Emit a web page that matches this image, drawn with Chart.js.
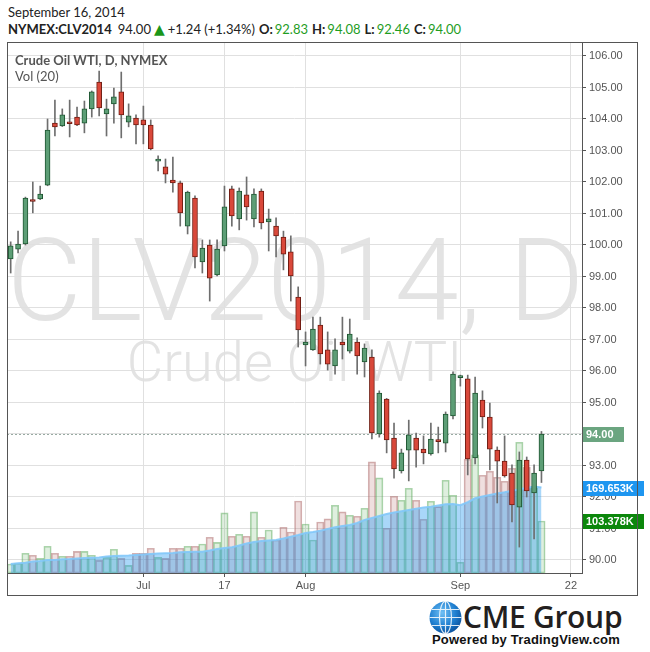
<!DOCTYPE html>
<html>
<head>
<meta charset="utf-8">
<title>Crude Oil WTI CLV2014</title>
<script src="https://cdn.jsdelivr.net/npm/chart.js@4.4.1/dist/chart.umd.min.js"></script>
<style>
    html, body { margin: 0; padding: 0; background: #fff; }
    body { width: 650px; height: 652px; position: relative; overflow: hidden; font-family: Lato, 'Liberation Sans', sans-serif; color: #222; }
    .abs { position: absolute; white-space: nowrap; }
    #title { left: 8px; top: 4px; font-size: 13px; line-height: 16px; }
    #quote { left: 8px; top: 21px; font-size: 13px; line-height: 16px; }
    #quote b { font-weight: 700; }
    #quote .sp { margin-left: 4px; }
    #quote .g { color: #1f9d1f; margin-left: 2px; }
    #quote .tri { color: #1a961a; font-family: 'DejaVu Sans', sans-serif; font-size: 14px; margin: 0 3px 0 3px; }
    .wm { left: 7px; width: 575px; text-align: center; color: #e3e3e3; font-family: Roboto, sans-serif; font-weight: 300; line-height: 1; z-index: 0; }
    #wm1 { top: 223px; font-size: 115px; }
    #wm2 { top: 334px; font-size: 56px; }
    #chart { position: absolute; left: 0; top: 0; z-index: 1; }
    #frame { left: 7px; top: 42px; width: 631px; height: 554px; border: 1px solid #555; box-sizing: border-box; z-index: 2; pointer-events: none; }
    .legend { left: 15px; font-size: 13px; line-height: 16px; color: #555; z-index: 3; }
    #leg1 { top: 52px; font-weight: 700; }
    #leg2 { top: 68px; }
    #logo { left: 429px; top: 601px; width: 33px; height: 33px; }
    #cme { left: 463px; top: 597px; font-family: 'Open Sans', sans-serif; font-weight: 600; font-size: 30px; line-height: 40px; color: #231f20; letter-spacing: -0.3px; }
    #powered { left: 432px; top: 632px; font-family: 'Liberation Sans', Arial, sans-serif; font-weight: 700; font-size: 13px; line-height: 16px; color: #111; letter-spacing: 0.2px; }
</style>
</head>
<body>
<div id="title" class="abs">September 16, 2014</div>
<div id="quote" class="abs"></div>

<div id="wm1" class="abs wm">CLV2014, D</div>
<div id="wm2" class="abs wm">Crude Oil WTI</div>

<canvas id="chart" width="650" height="652"></canvas>
<div id="frame" class="abs"></div>
<div id="leg1" class="abs legend">Crude Oil WTI, D, NYMEX</div>
<div id="leg2" class="abs legend">Vol (20)</div>

<svg id="logo" class="abs" viewBox="0 0 33 33">
    <defs>
        <radialGradient id="gl" cx="40%" cy="35%" r="70%">
            <stop offset="0" stop-color="#6fc0f5"/>
            <stop offset="0.6" stop-color="#1f7fd0"/>
            <stop offset="1" stop-color="#0a4f9a"/>
        </radialGradient>
    </defs>
    <circle cx="16.5" cy="16.5" r="16" fill="url(#gl)"/>
    <g fill="none" stroke="#fff" stroke-width="1.2" opacity="0.85">
        <ellipse cx="16.5" cy="16.5" rx="6" ry="16"/>
        <line x1="16.5" y1="0.5" x2="16.5" y2="32.5"/>
        <line x1="0.5" y1="16.5" x2="32.5" y2="16.5"/>
        <path d="M3 8.5 H30 M3 24.5 H30"/>
    </g>
</svg>
<div id="cme" class="abs">CME Group</div>
<div id="powered" class="abs">Powered by TradingView.com</div>

<script>
// Trading days shown on the axis (2014), last five are empty future slots
const categories = [
    '06-05', '06-06', '06-09', '06-10', '06-11', '06-12', '06-13', '06-16', '06-17', '06-18',
    '06-19', '06-20', '06-23', '06-24', '06-25', '06-26', '06-27', '06-30',
    '07-01', '07-02', '07-03', '07-07', '07-08', '07-09', '07-10', '07-11', '07-14', '07-15',
    '07-16', '07-17', '07-18', '07-21', '07-22', '07-23', '07-24', '07-25', '07-28', '07-29',
    '07-30', '07-31',
    '08-01', '08-04', '08-05', '08-06', '08-07', '08-08', '08-11', '08-12', '08-13', '08-14',
    '08-15', '08-18', '08-19', '08-20', '08-21', '08-22', '08-25', '08-26', '08-27', '08-28',
    '08-29',
    '09-01', '09-02', '09-03', '09-04', '09-05', '09-08', '09-09', '09-10', '09-11', '09-12',
    '09-15', '09-16',
    '09-17', '09-18', '09-19', '09-22', '09-23'
];

const xTickLabels = { '07-01': 'Jul', '07-17': '17', '08-01': 'Aug', '09-01': 'Sep', '09-22': '22' };
const priceTicks = [90, 91, 92, 93, 94, 95, 96, 97, 98, 99, 100, 101, 102, 103, 104, 105, 106];

const open = [
    99.56, 99.87, 100.03, 101.42, 101.46, 101.90, 103.87, 103.78, 103.88, 104.06,
    103.87, 104.32, 105.17, 104.16, 104.48, 104.86, 103.90, 104.03, 103.97, 103.81,
    102.66, 102.48, 102.06, 101.97, 100.60, 101.49, 99.46, 100.00, 99.05, 99.97,
    101.78, 100.83, 101.59, 100.83, 101.71, 100.73, 100.60, 100.25, 99.78, 98.35,
    96.83, 96.67, 97.46, 96.67, 96.16, 96.92, 96.63, 96.92, 96.29, 96.44,
    94.00, 95.11, 93.87, 92.83, 93.49, 93.87, 93.52, 93.37, 93.80, 93.71,
    94.57, 95.79, 95.75, 93.24, 95.08, 94.54, 93.49, 93.14, 92.76, 91.68,
    93.17, 92.13, 92.83
];
const high = [
    100.10, 100.44, 101.52, 102.00, 101.87, 104.00, 104.60, 104.32, 104.60, 104.38,
    104.57, 104.89, 105.52, 104.63, 104.98, 105.49, 104.48, 104.13, 104.41, 103.97,
    102.83, 102.73, 102.79, 102.03, 101.71, 101.56, 100.16, 100.16, 100.16, 101.87,
    101.87, 101.81, 102.16, 101.78, 101.78, 101.14, 100.86, 100.44, 100.29, 98.67,
    97.24, 97.71, 97.71, 97.24, 97.02, 97.71, 97.65, 97.05, 96.86, 96.67,
    95.37, 95.13, 94.35, 93.52, 94.44, 94.03, 93.94, 94.35, 94.22, 94.70,
    95.97, 95.87, 95.87, 95.81, 95.37, 94.98, 93.59, 93.94, 93.02, 93.43,
    93.27, 93.02, 94.08
];
const low = [
    99.11, 99.75, 100.00, 101.02, 101.44, 101.88, 103.46, 103.76, 103.43, 103.79,
    103.56, 104.06, 104.10, 103.46, 103.87, 103.40, 103.75, 103.21, 103.21, 103.02,
    102.35, 101.97, 101.68, 100.60, 100.35, 99.27, 99.11, 98.22, 99.02, 99.81,
    100.60, 100.48, 100.79, 100.57, 100.51, 99.81, 99.62, 99.21, 98.22, 96.76,
    96.16, 96.65, 96.22, 96.03, 95.90, 96.38, 96.57, 95.90, 95.81, 93.84,
    93.90, 93.40, 92.60, 92.76, 92.51, 92.95, 93.05, 93.33, 93.40, 93.43,
    94.48, 95.52, 92.70, 93.05, 94.19, 92.86, 91.81, 92.63, 91.21, 90.41,
    92.00, 90.67, 92.46
];
const close = [
    99.97, 100.03, 101.49, 101.38, 101.62, 103.65, 103.75, 104.13, 103.85, 103.81,
    104.32, 104.86, 104.35, 104.32, 104.70, 104.13, 104.10, 103.81, 103.81, 103.05,
    102.70, 102.25, 101.97, 101.02, 101.68, 99.62, 99.90, 98.95, 99.87, 101.21,
    100.92, 101.71, 101.21, 101.62, 100.70, 100.83, 100.29, 99.71, 99.02, 97.30,
    96.92, 97.33, 96.54, 96.22, 96.67, 96.83, 97.17, 96.48, 96.73, 94.03,
    95.30, 93.81, 92.89, 93.40, 93.97, 93.49, 93.40, 93.84, 93.76, 94.63,
    95.90, 95.83, 93.21, 95.30, 94.54, 93.52, 93.14, 92.67, 91.75, 93.17,
    92.19, 92.76, 94.00
];

// Volume in thousands of contracts
const volume = [
    17.9, 19.3, 39.2, 35.2, 29.2, 53.1, 39.2, 33.2, 33.2, 43.1,
    43.1, 35.2, 25.2, 31.2, 47.1, 29.2, 15.3, 39.2, 39.2, 49.1,
    31.2, 29.2, 49.1, 49.1, 53.1, 53.1, 57.7, 71.0, 61.0, 119.3,
    73.0, 76.9, 73.0, 121.3, 71.0, 85.5, 65.6, 90.9, 81.5, 143.1,
    97.4, 65.6, 101.4, 107.4, 134.6, 121.3, 114.7, 112.7, 128.6, 220.7,
    188.9, 88.9, 152.5, 144.5, 168.4, 144.5, 106.8, 142.5, 131.8, 184.3,
    154.5, 21.3, 226.0, 234.6, 194.2, 202.2, 190.3, 182.3, 208.2, 259.8,
    210.1, 169.0, 103.378
];
// Vol (20) moving average
const volMA = [
    17.9, 19.3, 20.5, 22.9, 23.9, 25.8, 25.8, 27.2, 27.8, 28.8,
    29.8, 30.2, 30.8, 32.8, 33.8, 34.2, 34.8, 35.8, 36.8, 37.8,
    38.8, 39.4, 39.8, 41.2, 41.7, 42.1, 42.3, 44.7, 47.7, 49.7,
    51.1, 54.7, 58.6, 61.6, 63.6, 64.6, 65.6, 68.6, 72.2, 75.5,
    79.5, 81.5, 84.1, 87.5, 90.9, 93.4, 95.4, 99.4, 105.4, 109.3,
    113.3, 117.3, 120.3, 122.7, 125.2, 127.8, 130.2, 131.8, 134.2, 136.6,
    137.2, 134.6, 140.6, 148.5, 152.1, 155.1, 158.1, 160.4, 163.4, 166.4,
    169.0, 172.0, 169.653
];

const last = close.length - 1;

// Header quote line
(function buildQuote() {
    const chg = close[last] - close[last - 1];
    const pct = chg / close[last - 1] * 100;
    const sign = chg >= 0 ? '+' : '';
    document.getElementById('quote').innerHTML =
        '<b>NYMEX:CLV2014</b><span class="sp" style="margin-left:6px">' + close[last].toFixed(2) + '</span>' +
        '<span class="tri">▲</span>' + sign + chg.toFixed(2) + ' (' + sign + pct.toFixed(2) + '%)' +
        '<b class="sp">O:</b><span class="g">' + open[last].toFixed(2) + '</span>' +
        '<b class="sp">H:</b><span class="g">' + high[last].toFixed(2) + '</span>' +
        '<b class="sp">L:</b><span class="g">' + low[last].toFixed(2) + '</span>' +
        '<b class="sp">C:</b><span class="g">' + close[last].toFixed(2) + '</span>';
})();

const isUp = close.map((c, i) => c >= open[i]);

// Last price dashed line and the axis value tags
function drawTag(chart, y, text, bg, w) {
    const ctx = chart.ctx;
    const x = chart.chartArea.right + 1;
    const yy = Math.round(y);
    ctx.save();
    ctx.fillStyle = bg;
    ctx.fillRect(x, yy - 7, w, 15);
    ctx.fillStyle = '#fff';
    ctx.font = 'bold 11px "Liberation Sans", Arial, sans-serif';
    ctx.textBaseline = 'middle';
    ctx.fillText(text, x + 3, yy + 1);
    ctx.restore();
}

const overlayPlugin = {
    id: 'overlay',
    beforeDatasetsDraw(chart) {
        const { ctx, chartArea, scales } = chart;
        const y = Math.round(scales.y.getPixelForValue(close[last])) + 0.5;
        ctx.save();
        ctx.strokeStyle = '#98aaa2';
        ctx.lineWidth = 1;
        ctx.setLineDash([2, 2]);
        ctx.beginPath();
        ctx.moveTo(chartArea.left, y);
        ctx.lineTo(chartArea.right, y);
        ctx.stroke();
        ctx.restore();
    },
    afterDraw(chart) {
        const { scales } = chart;
        drawTag(chart, scales.y.getPixelForValue(close[last]), close[last].toFixed(2), '#6ba580', 41);
        drawTag(chart, scales.vol.getPixelForValue(volMA[last]), volMA[last].toFixed(3) + 'K', '#1e96f0', 61);
        drawTag(chart, scales.vol.getPixelForValue(volume[last]), volume[last].toFixed(3) + 'K', '#0b870b', 61);
    }
};

Chart.defaults.font.family = "'Liberation Sans', Arial, sans-serif";
Chart.defaults.font.size = 11;
Chart.defaults.color = '#555';

new Chart(document.getElementById('chart'), {
    type: 'bar',
    data: {
        labels: categories,
        datasets: [
            {
                label: 'Body',
                data: open.map((o, i) => [o, close[i]]),
                backgroundColor: isUp.map(u => u ? '#5d9e76' : '#d9483a'),
                borderColor: isUp.map(u => u ? '#1f5632' : '#701c12'),
                borderWidth: 1,
                borderSkipped: false,
                barThickness: 5,
                minBarLength: 2,
                grouped: false,
                order: 0,
                yAxisID: 'y'
            },
            {
                label: 'Wick',
                data: low.map((l, i) => [l, high[i]]),
                backgroundColor: '#6e6e6e',
                barThickness: 1,
                grouped: false,
                order: 1,
                yAxisID: 'y'
            },
            {
                type: 'line',
                label: 'Vol (20)',
                data: volMA,
                yAxisID: 'vol',
                borderColor: 'rgba(130, 200, 250, 0.9)',
                borderWidth: 2,
                backgroundColor: 'rgba(30, 150, 240, 0.38)',
                fill: 'origin',
                pointRadius: 0,
                tension: 0,
                order: 2
            },
            {
                label: 'Volume',
                data: volume,
                yAxisID: 'vol',
                backgroundColor: isUp.map(u => u ? 'rgba(120, 190, 120, 0.24)' : 'rgba(190, 120, 120, 0.24)'),
                borderColor: isUp.map(u => u ? 'rgba(90, 170, 90, 0.5)' : 'rgba(170, 100, 100, 0.5)'),
                borderWidth: 1,
                borderSkipped: false,
                barPercentage: 1,
                categoryPercentage: 1,
                grouped: false,
                order: 3
            }
        ]
    },
    options: {
        responsive: false,
        animation: false,
        layout: {
            padding: { left: 7, top: 42, right: 13, bottom: 57 }
        },
        plugins: {
            legend: { display: false },
            tooltip: { enabled: false }
        },
        scales: {
            x: {
                type: 'category',
                offset: true,
                grid: {
                    offset: false,
                    color: '#e0e0e0',
                    tickColor: '#555',
                    tickLength: 4
                },
                border: { color: '#555' },
                ticks: {
                    autoSkip: false,
                    maxRotation: 0,
                    padding: 2,
                    color: '#555',
                    callback: function(value) {
                        return xTickLabels[categories[value]] || '';
                    }
                },
                afterBuildTicks: function(scale) {
                    scale.ticks = scale.ticks.filter(t => xTickLabels[categories[t.value]]);
                },
                afterFit: function(scale) {
                    scale.height = 22;
                }
            },
            y: {
                position: 'right',
                min: 89.587,
                max: 106.444,
                grid: {
                    color: '#e0e0e0',
                    tickColor: '#555',
                    tickLength: 4
                },
                border: { color: '#555' },
                ticks: {
                    padding: 3,
                    color: '#555',
                    callback: v => v.toFixed(2)
                },
                afterBuildTicks: function(scale) {
                    scale.ticks = priceTicks.map(v => ({ value: v }));
                },
                afterFit: function(scale) {
                    scale.width = 55;
                }
            },
            vol: {
                display: false,
                min: 0,
                max: 1055
            }
        }
    },
    plugins: [overlayPlugin]
});
</script>
</body>
</html>
